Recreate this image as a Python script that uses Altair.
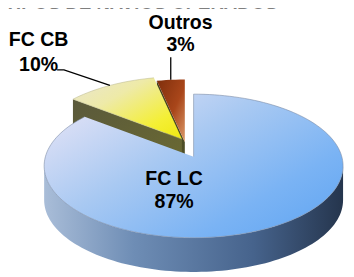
import altair as alt
import numpy as np
import pandas as pd

# ---------------- data ----------------
categories = ["FC LC", "FC CB", "Outros"]
values = [87, 10, 3]
pct_labels = ["87%", "10%", "3%"]
title_text = "TIPOS DE NAVIOS OPERADOS"

# ---------------- layout (pixels) ----------------
W, H = 346, 269            # view size (page minus 8px margin)
A = 153.0                  # horizontal radius of the tilted pie (px)
B = 73.5                   # vertical radius (px)
CX, CY = 190.0, 158.5      # ellipse centre inside the view (px)
DEPTH = 35.0               # thickness of the pie (px)
APEX_LIFT = 9.5            # perspective lift of the pie centre (px)
EXPLODE = {"FC LC": (0, 0), "FC CB": (-12, -18), "Outros": (-9, -15)}   # px (right, down)
TILT = B / A

# label offsets (px) from slice anchor points
LABEL_OFFSETS = {
    "FC LC": ((-20, 23.5), (-20, 47)),      # from pie apex
    "FC CB": ((-73, -46), (-73, -21)),      # from exploded outer mid-point
    "Outros": ((10, -58), (10, -35)),
}
LEADER_OFFSETS = {
    "FC CB": [(0, 0), (-47, -16), (-54, -16)],
    "Outros": [(0, 0), (0, -23)],
}

# ---------------- geometry built from the values ----------------
shares = np.array(values, dtype=float) / sum(values)
ends = np.cumsum(shares) * 360.0
starts = ends - shares * 360.0


def pt(theta, r, z, ex, ey):
    """unit coordinates: x right, y up; theta clockwise from top (deg)."""
    t = np.radians(theta)
    x = r * np.sin(t) + ex / A
    y = r * np.cos(t) * TILT - z / A - ey / A
    if r == 0:
        y += APEX_LIFT / A
    return x, y


rows = []


def add_poly(name, pts):
    for i, (x, y) in enumerate(pts):
        rows.append({"poly": name, "i": i, "x": x, "y": y})


anchors = {}
for cat, t0, t1 in zip(categories, starts, ends):
    ex, ey = EXPLODE[cat]
    n = max(int((t1 - t0) / 2) + 2, 4)
    arc = np.linspace(t0, t1, n)
    # top face
    add_poly(cat + "_top", [pt(0, 0, 0, ex, ey)] + [pt(t, 1, 0, ex, ey) for t in arc])
    # outer front wall (visible part 90..270 deg)
    lo, hi = max(t0, 90.0), min(t1, 270.0)
    if hi > lo:
        warc = np.linspace(lo, hi, max(int((hi - lo) / 2) + 2, 4))
        add_poly(cat + "_wall",
                 [pt(t, 1, 0, ex, ey) for t in warc] +
                 [pt(t, 1, DEPTH, ex, ey) for t in warc[::-1]])
    # cut wall on the start edge of exploded slices
    if EXPLODE[cat] != (0, 0):
        add_poly(cat + "_cut",
                 [pt(0, 0, 0, ex, ey), pt(t0, 1, 0, ex, ey),
                  pt(t0, 1, DEPTH, ex, ey), pt(0, 0, DEPTH, ex, ey)])
    mid = (t0 + t1) / 2
    anchors[cat] = pt(mid, 1, 0, ex, ey) if EXPLODE[cat] != (0, 0) else pt(0, 0, 0, 0, 0)

poly_df = pd.DataFrame(rows)

# labels
lab_rows = []
for cat, pct in zip(categories, pct_labels):
    ax, ay = anchors[cat]
    for txt, (dx, dy) in zip([cat, pct], LABEL_OFFSETS[cat]):
        lab_rows.append({"x": ax + dx / A, "y": ay - dy / A, "text": txt})
lab_df = pd.DataFrame(lab_rows)

lead_rows = []
for cat, offs in LEADER_OFFSETS.items():
    ax, ay = anchors[cat]
    for i, (dx, dy) in enumerate(offs):
        lead_rows.append({"cat": cat, "i": i, "x": ax + dx / A, "y": ay - dy / A})
lead_df = pd.DataFrame(lead_rows)

# ---------------- scales ----------------
xs = alt.Scale(domain=[-CX / A, (W - CX) / A], zero=False, nice=False)
ys = alt.Scale(domain=[-(H - CY) / A, CY / A], zero=False, nice=False)
X = alt.X("x:Q", scale=xs, axis=None)
Y = alt.Y("y:Q", scale=ys, axis=None)


def grad(stops, x1=0, y1=0, x2=1, y2=0):
    return alt.LinearGradient(
        gradient="linear",
        stops=[alt.GradientStop(color=c, offset=o) for o, c in stops],
        x1=x1, y1=y1, x2=x2, y2=y2)


def poly_layer(name, fill, stroke=None, sw=0):
    kw = dict(fill=fill, interpolate="linear", strokeWidth=sw)
    kw["stroke"] = stroke if stroke else "transparent"
    return (alt.Chart(poly_df)
            .transform_filter(alt.datum.poly == name)
            .mark_line(**kw)
            .encode(x=X, y=Y, order=alt.Order("i:Q")))


layers = [
    poly_layer("Outros_cut", grad([(0, "#3e3e1e"), (1, "#55552a")], 0, 0, 0, 1)),
    poly_layer("Outros_top", grad([(0, "#7e2e0c"), (0.55, "#a9461a"), (1, "#dc9a6a")], 0, 0, 1, 1)),
    poly_layer("FC CB_cut", grad([(0, "#5a593b"), (1, "#6b6a32")], 0, 0, 1, 1)),
    poly_layer("FC CB_top", grad([(0, "#e9e5d2"), (0.35, "#eeeaa8"), (0.75, "#f4ef35"), (1, "#efe812")], 0, 0, 1, 1),
               "#b8b48a", 0.5),
    poly_layer("FC LC_wall", grad([(0, "#a9bdd8"), (0.3, "#6e8db5"), (0.7, "#46638c"), (1, "#25354d")])),
    poly_layer("FC LC_top", grad([(0, "#e6e4f6"), (0.4, "#a9c9f2"), (0.75, "#7ab3f4"), (1, "#62a6f2")], 0, 0.1, 1, 0.9),
               "#7d8da6", 0.6),
]

leaders = (alt.Chart(lead_df)
           .mark_line(color="black", strokeWidth=1.3)
           .encode(x=X, y=Y, detail="cat:N", order=alt.Order("i:Q")))

labels = (alt.Chart(lab_df)
          .mark_text(font="Liberation Sans", fontWeight="bold", fontSize=20,
                     align="center", baseline="middle", color="black")
          .encode(x=X, y=Y, text="text:N"))

title = (alt.Chart(pd.DataFrame({"t": [title_text]}))
         .mark_text(font="Liberation Sans", fontWeight="bold", fontStyle="italic",
                    fontSize=19, align="center", baseline="alphabetic", color="#7f7f7f")
         .encode(x=alt.value(137), y=alt.value(-2), text="t:N"))

chart = (alt.layer(*layers, leaders, labels, title)
         .properties(width=W, height=H, padding=0,
                     autosize=alt.AutoSizeParams(type="none"))
         .configure_view(stroke=None))

chart.save("out.html", embed_options={"renderer": "svg", "actions": False})
